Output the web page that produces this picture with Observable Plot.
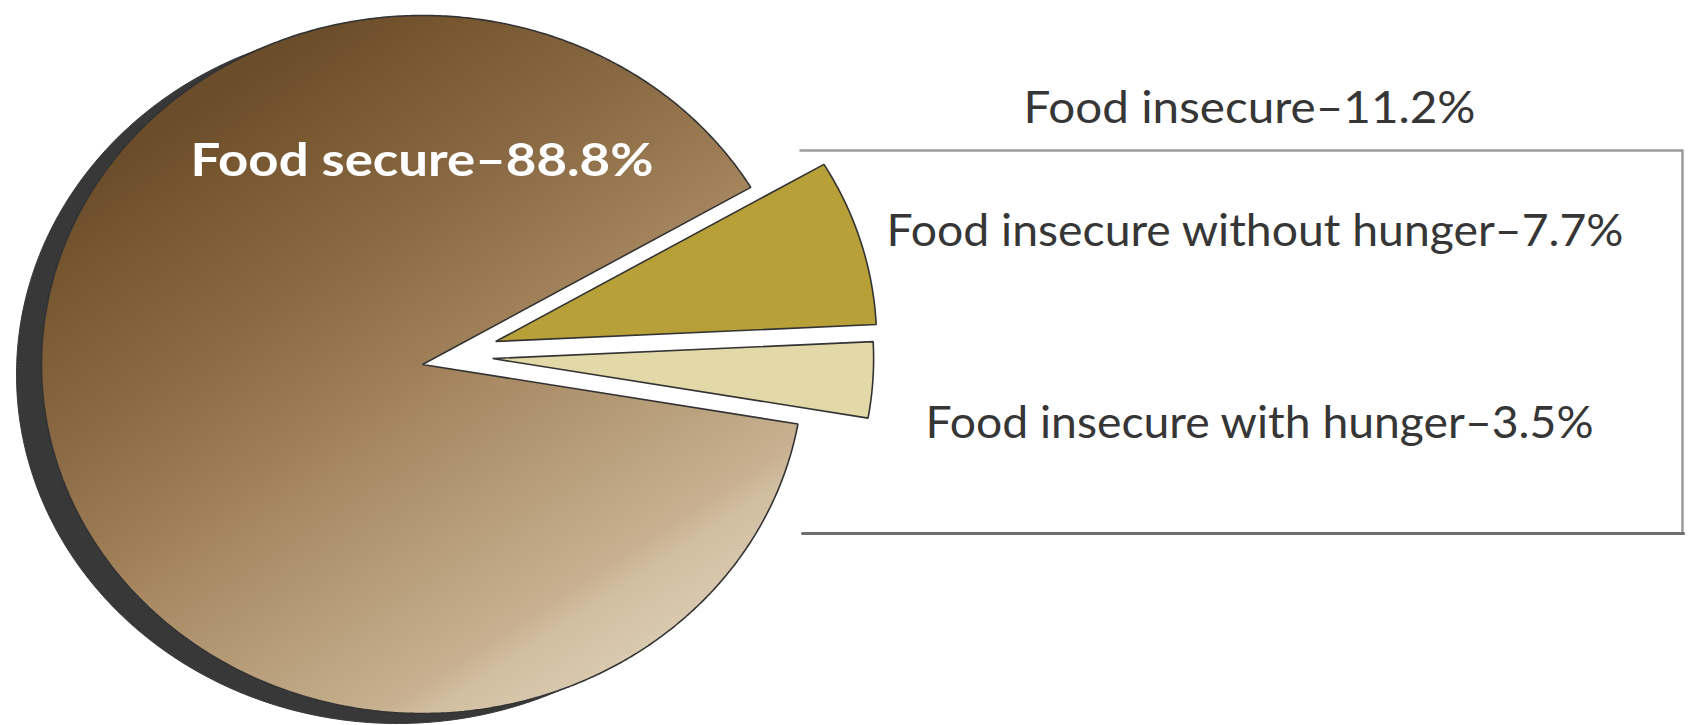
<!DOCTYPE html>
<html><head><meta charset="utf-8">
<script src="https://cdn.jsdelivr.net/npm/d3@7"></script>
<script src="https://cdn.jsdelivr.net/npm/@observablehq/plot@0.6"></script>
<style>
html,body{margin:0;padding:0;background:#fff;}
#chart{width:1690px;height:725px;overflow:hidden;}
</style></head><body><div id="chart"></div>
<script>
// ---- data ----
const categories = ["Food secure", "Food insecure without hunger", "Food insecure with hunger"];
const shares = [88.8, 7.7, 3.5];
const groupName = "Food insecure";
const groupShare = 11.2;

// ---- styles / layout ----
const sliceFills = ["url(#secureGrad)", "#b8a038", "#e3d8a8"];
const W = 1690, H = 725;
const CX = 422, CY = 364, RX = 381, RY = 349;   // pie centre and radii in pixels
const startDeg = 59.5;                          // d3 angle of the insecure group's upper edge
const explode = [[0, 0], [0.192, 0.066], [0.184, 0.017]]; // offsets in radius units
const gradFrom = [190, 110], gradTo = [572, 697];
const gradStops = [[0, "#6b4c2b"], [0.09, "#76562f"], [0.3, "#8a6a44"], [0.49, "#a08058"], [0.56, "#a88a64"],
  [0.87, "#c7b190"], [0.91, "#d2bfa2"], [0.99, "#d8c8ad"], [1, "#dccdb4"]];

const X = px => (px - CX) / RX;
const Y = py => (CY - py) / RY;

// ---- geometry from the data ----
const order = [1, 2, 0];
const pie = d3.pie().sort(null).value(i => shares[i])
  .startAngle(startDeg * Math.PI / 180).endAngle((startDeg + 360) * Math.PI / 180);
const arcs = pie(order);
function slicePoints(arc) {
  const i = arc.data, [ox, oy] = explode[i];
  const pts = [{x: ox, y: oy}];
  const n = Math.max(4, Math.ceil((arc.endAngle - arc.startAngle) / (Math.PI / 360)));
  for (let k = 0; k <= n; k++) {
    const a = arc.startAngle + (arc.endAngle - arc.startAngle) * k / n;
    pts.push({x: ox + Math.sin(a), y: oy + Math.cos(a)});
  }
  return pts;
}

const labels = [
  {text: `${categories[0]}–${shares[0]}%`, x: X(190), y: Y(175), w: 463, bold: true},
  {text: `${groupName}–${groupShare}%`, x: X(1023), y: Y(122), w: 452},
  {text: `${categories[1]}–${shares[1]}%`, x: X(886), y: Y(245), w: 737},
  {text: `${categories[2]}–${shares[2]}%`, x: X(925), y: Y(437), w: 668}
];

const bracketTop = [{x: X(800), y: Y(150)}, {x: X(1682), y: Y(150)}, {x: X(1682), y: Y(533)}];
const bracketBottom = [{x: X(802), y: Y(533)}, {x: X(1683), y: Y(533)}];

const marks = [];
// shadow of the main slice
const mainArc = arcs.find(a => a.data === 0);
marks.push(Plot.line(slicePoints(mainArc), {x: "x", y: "y", curve: "linear-closed", fill: "#383838", stroke: "#383838", strokeWidth: 1, dx: -25, dy: 10}));
for (const arc of arcs) {
  marks.push(Plot.line(slicePoints(arc), {x: "x", y: "y", curve: "linear-closed",
    fill: sliceFills[arc.data], stroke: "#333", strokeWidth: 1.6, strokeLinejoin: "miter"}));
}
marks.push(Plot.line(bracketTop, {x: "x", y: "y", stroke: "#9a9a9a", strokeWidth: 2.5}));
marks.push(Plot.line(bracketBottom, {x: "x", y: "y", stroke: "#6e6e6e", strokeWidth: 3}));
marks.push(Plot.text(labels.filter(d => d.bold), {x: "x", y: "y", text: "text", textAnchor: "start", lineAnchor: "bottom",
  fill: "#ffffff", fontSize: 45, fontWeight: "bold", fontFamily: "Lato"}));
marks.push(Plot.text(labels.filter(d => !d.bold), {x: "x", y: "y", text: "text", textAnchor: "start", lineAnchor: "bottom",
  fill: "#363636", fontSize: 45, fontFamily: "Lato"}));

const plot = Plot.plot({
  width: W, height: H, margin: 0,
  x: {domain: [X(0), X(W)], axis: null},
  y: {domain: [Y(H), Y(0)], axis: null},
  style: {background: "#fff", fontFamily: "Lato", overflow: "visible"},
  marks
});

// gradient definition for the main slice
const xs = plot.scale("x"), ys = plot.scale("y");
const defs = d3.select(plot).insert("defs", ":first-child");
const lg = defs.append("linearGradient").attr("id", "secureGrad").attr("gradientUnits", "userSpaceOnUse")
  .attr("x1", xs.apply(X(gradFrom[0]))).attr("y1", ys.apply(Y(gradFrom[1])))
  .attr("x2", xs.apply(X(gradTo[0]))).attr("y2", ys.apply(Y(gradTo[1])));
for (const [o, c] of gradStops) lg.append("stop").attr("offset", o).attr("stop-color", c);

// fit label widths
const widthOf = new Map(labels.map(d => [d.text, d.w]));
d3.select(plot).selectAll("text").each(function() {
  const w = widthOf.get(this.textContent);
  if (w) { this.setAttribute("textLength", w); this.setAttribute("lengthAdjust", "spacingAndGlyphs"); }
});

document.getElementById("chart").appendChild(plot);
</script></body></html>
